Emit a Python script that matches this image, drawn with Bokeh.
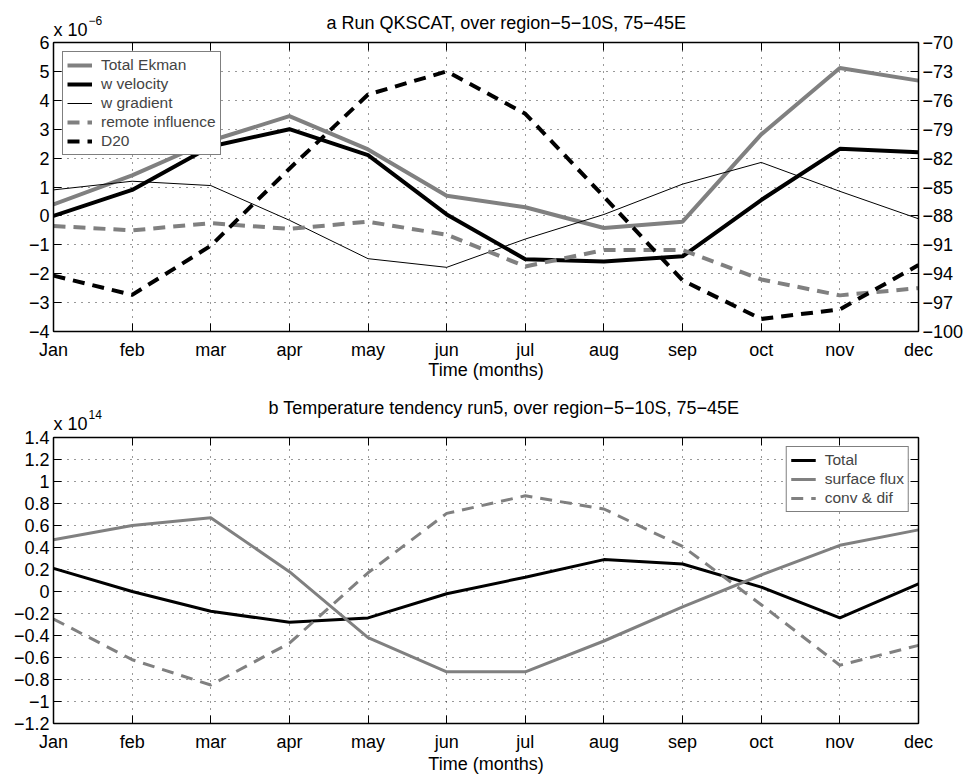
from bokeh.plotting import figure
from bokeh.models import (Range1d, LinearAxis, FixedTicker, CustomJSTickFormatter,
                          Legend, LegendItem, Grid, Title)
from bokeh.layouts import column
from bokeh.embed import file_html
from bokeh.resources import INLINE

# ---------------- data ----------------
months = ["Jan", "feb", "mar", "apr", "may", "jun", "jul", "aug", "sep", "oct", "nov", "dec"]

# panel a (x 10^-6), D20 on right axis
total_ekman = [0.4, 1.4, 2.6, 3.45, 2.3, 0.7, 0.3, -0.42, -0.2, 2.82, 5.12, 4.68]
w_velocity = [0.0, 0.9, 2.4, 3.0, 2.1, 0.05, -1.5, -1.58, -1.4, 0.55, 2.32, 2.2]
w_gradient = [0.9, 1.2, 1.05, -0.15, -1.48, -1.78, -0.8, 0.05, 1.1, 1.85, 0.85, -0.1]
remote_influence = [-0.35, -0.5, -0.25, -0.45, -0.2, -0.65, -1.75, -1.18, -1.18, -2.2, -2.75, -2.5]
d20 = [-94.2, -96.2, -91.1, -83.1, -75.4, -73.0, -77.4, -86.0, -94.7, -98.7, -97.7, -93.1]

# panel b (x 10^14)
tend_total = [0.21, 0.0, -0.18, -0.28, -0.24, -0.02, 0.13, 0.29, 0.25, 0.04, -0.24, 0.07]
surface_flux = [0.47, 0.6, 0.67, 0.18, -0.42, -0.73, -0.73, -0.45, -0.14, 0.15, 0.42, 0.56]
conv_dif = [-0.25, -0.62, -0.85, -0.47, 0.17, 0.71, 0.87, 0.75, 0.41, -0.12, -0.67, -0.49]

yticks_a = [-4, -3, -2, -1, 0, 1, 2, 3, 4, 5, 6]
yticks_a_right = [-100, -97, -94, -91, -88, -85, -82, -79, -76, -73, -70]
yticks_b = [-1.2, -1.0, -0.8, -0.6, -0.4, -0.2, 0.0, 0.2, 0.4, 0.6, 0.8, 1.0, 1.2, 1.4]

title_a = "a  Run QKSCAT, over region\u22125\u221210S, 75\u221245E"
title_b = "b  Temperature tendency run5, over region\u22125\u221210S, 75\u221245E"
scale_base = "x 10"
exp_a = "\u22126"
exp_b = "14"

FONT = "Liberation Sans"
GRAY = "#808080"
x = list(range(len(months)))

num_fmt = CustomJSTickFormatter(code="""
var v = Math.round(tick*10)/10;
if (Math.abs(v) < 1e-9) { v = 0; }
return String(v).replace('-', '\\u2212');
""")
blank_fmt = CustomJSTickFormatter(code="return '';")


def style_axis(ax):
    ax.axis_line_color = "black"
    ax.axis_line_width = 1.5
    ax.major_tick_in = 8
    ax.major_tick_out = 0
    ax.major_tick_line_color = "black"
    ax.major_tick_line_width = 1
    ax.minor_tick_line_color = None
    ax.major_label_text_font = FONT
    ax.major_label_text_font_size = "18px"
    ax.major_label_text_color = "black"
    ax.major_label_standoff = 4
    ax.axis_label_text_font = FONT
    ax.axis_label_text_font_size = "18px"
    ax.axis_label_text_font_style = "normal"
    ax.axis_label_text_color = "black"


def text_title(text, offset, standoff, size):
    return Title(text=text, align="left", offset=offset, standoff=standoff,
                 text_font=FONT, text_font_size=size, text_font_style="normal",
                 text_color="black")


def make_fig(height, mb_top, mb_bottom, yrange, yticks, title, title_offset, exp,
             s_scale, s_title, s_exp, time_standoff):
    p = figure(width=966, height=height, x_range=Range1d(0, 11), y_range=Range1d(*yrange),
               output_backend="svg", toolbar_location=None,
               x_axis_type=None, y_axis_type=None,
               min_border_left=53, min_border_right=45,
               min_border_top=mb_top, min_border_bottom=mb_bottom)
    p.outline_line_color = "black"
    p.outline_line_width = 1
    p.background_fill_color = "white"
    p.border_fill_color = "white"
    p.title.text = ""

    xt = FixedTicker(ticks=x)
    yt = FixedTicker(ticks=yticks)

    xb = LinearAxis(ticker=xt, major_label_overrides={i: m for i, m in enumerate(months)},
                    axis_label="Time (months)")
    style_axis(xb)
    xb.major_label_standoff = 8
    xb.axis_label_standoff = time_standoff
    p.add_layout(xb, "below")

    xa = LinearAxis(ticker=xt, formatter=blank_fmt)
    style_axis(xa)
    xa.major_label_text_font_size = "0px"
    xa.major_label_standoff = 0
    p.add_layout(xa, "above")

    yl = LinearAxis(ticker=yt, formatter=num_fmt)
    style_axis(yl)
    p.add_layout(yl, "left")

    for dim, tk in ((0, xt), (1, yt)):
        g = Grid(dimension=dim, ticker=tk, grid_line_color="black", grid_line_alpha=0.8,
                 grid_line_dash="1 6", grid_line_width=1)
        p.add_layout(g)

    # stacked above the frame: "x 10", the panel title, then the exponent
    p.add_layout(text_title(scale_base, 0, s_scale, "18px"), "above")
    p.add_layout(text_title(title, title_offset, s_title, "18px"), "above")
    p.add_layout(text_title(exp, 35, s_exp, "12px"), "above")
    return p, yt


def make_legend(items, loc):
    return Legend(items=items, location=loc, margin=9, padding=4, spacing=1,
                  glyph_height=16, label_height=16, glyph_width=25, label_standoff=9,
                  label_text_font=FONT, label_text_font_size="15.5px",
                  border_line_color="black", border_line_width=1,
                  background_fill_color="white", background_fill_alpha=1)


# ---------------- panel a ----------------
pa, yta = make_fig(385, 42, 54, (-4, 6), yticks_a, title_a, 273, exp_a, 5, -34, -18, -3)
pa.extra_y_ranges = {"d20": Range1d(-100, -70)}
yr = LinearAxis(y_range_name="d20", ticker=FixedTicker(ticks=yticks_a_right), formatter=num_fmt)
style_axis(yr)
yr.major_label_standoff = 4
pa.add_layout(yr, "right")

ra1 = pa.line(x, total_ekman, line_color=GRAY, line_width=4)
ra2 = pa.line(x, w_velocity, line_color="black", line_width=4)
ra3 = pa.line(x, w_gradient, line_color="black", line_width=1)
ra4 = pa.line(x, remote_influence, line_color=GRAY, line_width=4, line_dash="12 8")
ra5 = pa.line(x, d20, line_color="black", line_width=4, line_dash="12 8", y_range_name="d20")

pa.add_layout(make_legend([LegendItem(label="Total Ekman", renderers=[ra1]),
                           LegendItem(label="w velocity", renderers=[ra2]),
                           LegendItem(label="w gradient", renderers=[ra3]),
                           LegendItem(label="remote influence", renderers=[ra4]),
                           LegendItem(label="D20", renderers=[ra5])], "top_left"))

# ---------------- panel b ----------------
pb, ytb = make_fig(391, 52, 50, (-1.2, 1.4), yticks_b, title_b, 215, exp_b, 8, -20, -26, -1)
ybr = LinearAxis(ticker=ytb, formatter=blank_fmt)
style_axis(ybr)
ybr.major_label_text_font_size = "0px"
ybr.major_label_standoff = 0
pb.add_layout(ybr, "right")

rb1 = pb.line(x, tend_total, line_color="black", line_width=3)
rb2 = pb.line(x, surface_flux, line_color=GRAY, line_width=3)
rb3 = pb.line(x, conv_dif, line_color=GRAY, line_width=3, line_dash="12 8")

pb.add_layout(make_legend([LegendItem(label="Total", renderers=[rb1]),
                           LegendItem(label="surface flux", renderers=[rb2]),
                           LegendItem(label="conv & dif", renderers=[rb3])], "top_right"))

layout = column(pa, pb)
open("out.html", "w").write(file_html(layout, INLINE))
